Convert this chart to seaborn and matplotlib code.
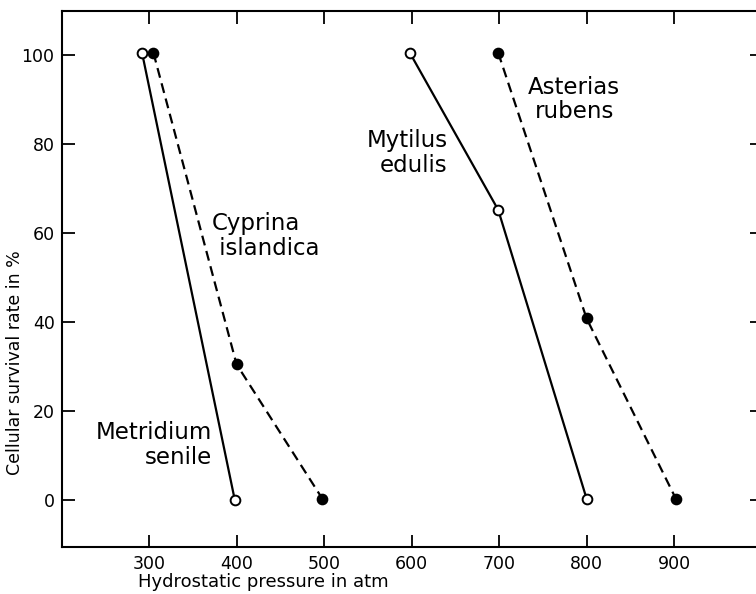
import matplotlib
matplotlib.use("Agg")
import matplotlib.pyplot as plt
import seaborn as sns
import pandas as pd

# Data
metridium_x = [292, 398]
metridium_y = [100.5, 0]
cyprina_x = [305, 400, 498]
cyprina_y = [100.5, 30.5, 0.3]
mytilus_x = [598, 699, 800]
mytilus_y = [100.5, 65.2, 0.3]
asterias_x = [699, 800, 902]
asterias_y = [100.5, 40.8, 0.3]

x_ticks = [300, 400, 500, 600, 700, 800, 900]
y_ticks = [0, 20, 40, 60, 80, 100]

sns.set_theme(style="ticks")
plt.rcParams['font.family'] = ['DejaVu Sans']

fig = plt.figure(figsize=(7.56, 5.94), dpi=100)
ax = fig.add_axes([0.0814, 0.0796, 0.926, 0.9027])

series = [
    (metridium_x, metridium_y, "-", "white"),
    (cyprina_x, cyprina_y, "--", "black"),
    (mytilus_x, mytilus_y, "-", "white"),
    (asterias_x, asterias_y, "--", "black"),
]
for xs, ys, ls, fc in series:
    df = pd.DataFrame({"x": xs, "y": ys})
    line_kw = dict(color="black", linewidth=1.6, marker="o", markersize=7,
                   markerfacecolor=fc, markeredgecolor="black",
                   markeredgewidth=1.4, ax=ax, zorder=3)
    if ls == "--":
        line_kw["dashes"] = (4.5, 2.6)
    else:
        line_kw["linestyle"] = "-"
    sns.lineplot(data=df, x="x", y="y", **line_kw)

ax.set_xlim(200, 1000)
ax.set_ylim(-10.5, 110)
ax.set_xticks(x_ticks)
ax.set_yticks(y_ticks)
ax.tick_params(axis="both", which="major", direction="in", length=9, width=1.3,
               labelsize=12.5, color="black", labelcolor="black",
               top=True, right=True, pad=5)
ax.tick_params(axis="x", pad=6)

for s in ax.spines.values():
    s.set_linewidth(1.5)
    s.set_color("black")
ax.spines["right"].set_visible(False)

ax.set_xlabel("Hydrostatic pressure in atm", fontsize=13, ha="left", va="center",
              color="black")
ax.xaxis.set_label_coords(0.109, -0.066)
ax.set_ylabel("Cellular survival rate in %", fontsize=12.5, ha="center", va="center",
              color="black")
ax.yaxis.set_label_coords(-0.0664, 0.3426)

lab = dict(fontsize=16.5, color="black", va="center", linespacing=1.1)
ax.text(372, 12.4, "Metridium\nsenile", ha="right", multialignment="right", **lab)
ax.text(372, 59.3, "Cyprina\n islandica", ha="left", multialignment="left", **lab)
ax.text(641, 78, "Mytilus\nedulis", ha="right", multialignment="right", **lab)
ax.text(786, 90, "Asterias\nrubens", ha="center", multialignment="center", **lab)

fig.savefig("out.png", dpi=100)
